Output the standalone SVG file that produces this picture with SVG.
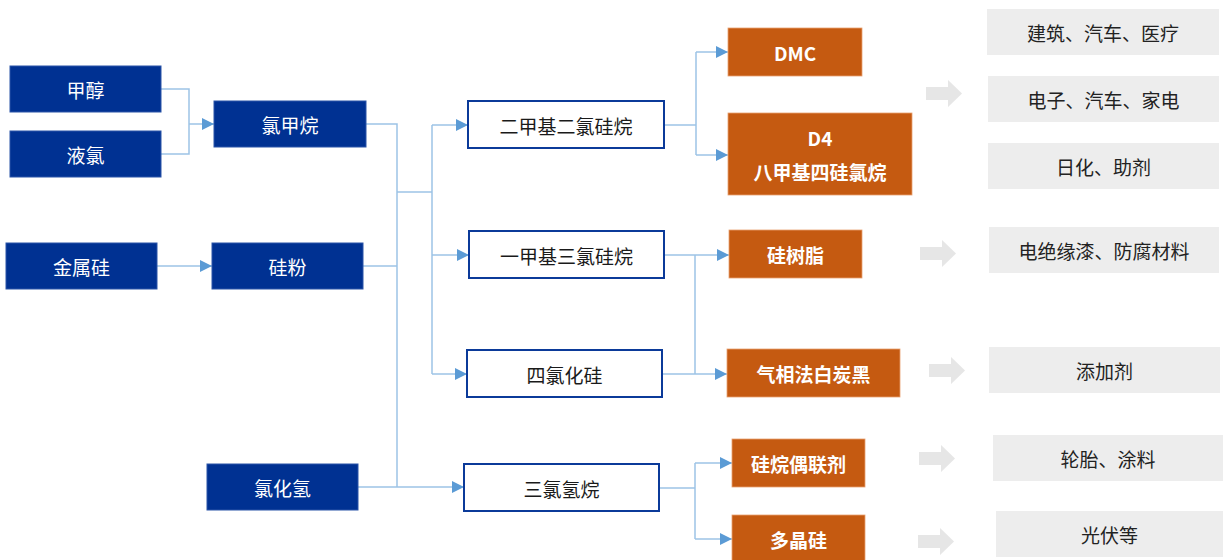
<svg xmlns="http://www.w3.org/2000/svg" width="1223" height="560" viewBox="0 0 1223 560">
<style>
.blue{fill:#003192;stroke:#2a55a8;stroke-width:1}
.white{fill:#ffffff;stroke:#0b3a99;stroke-width:2}
.orange{fill:#c55a11;stroke:#e8a070;stroke-width:0.8}
.grey{fill:#ededed}
.garrow{fill:#e6e6e6}
text{font-family:"Microsoft YaHei","Noto Sans CJK SC","Noto Sans",sans-serif;font-size:19px;text-anchor:middle;dominant-baseline:central}
.tw{fill:#ffffff}
.tb{fill:#1a1a1a}
.to{fill:#ffffff;font-weight:bold}
.tg{fill:#222222}
.conn path{fill:none;stroke:#9dc3e6;stroke-width:1.5}
</style>
<defs>
<marker id="arr" viewBox="0 0 10 10" refX="10" refY="5" markerWidth="12" markerHeight="12" markerUnits="userSpaceOnUse" orient="auto">
<path d="M0,0 L10,5 L0,10 z" fill="#5b9bd5"/>
</marker>
</defs>
<g class="conn" id="connectors">
<path d="M161,89 H189 V154 H161"/>
<path d="M189,124 H214" marker-end="url(#arr)"/>
<path d="M157,266 H212" marker-end="url(#arr)"/>
<path d="M366,124 H397 V487"/>
<path d="M363,266 H397"/>
<path d="M358,487 H464" marker-end="url(#arr)"/>
<path d="M397,192 H432"/>
<path d="M432,125 V374"/>
<path d="M432,125 H468" marker-end="url(#arr)"/>
<path d="M432,255 H469" marker-end="url(#arr)"/>
<path d="M432,374 H467" marker-end="url(#arr)"/>
<path d="M664,125 H696"/>
<path d="M696,52 V155"/>
<path d="M696,52 H728" marker-end="url(#arr)"/>
<path d="M696,155 H728" marker-end="url(#arr)"/>
<path d="M664,255 H729" marker-end="url(#arr)"/>
<path d="M662,374 H727" marker-end="url(#arr)"/>
<path d="M695,255 V374"/>
<path d="M659,488 H695"/>
<path d="M695,463 V539"/>
<path d="M695,463 H732" marker-end="url(#arr)"/>
<path d="M695,539 H732" marker-end="url(#arr)"/>
</g>
<g id="n-jiachun"><rect class="blue" x="10" y="66" width="151" height="46"/><text class="tw" x="85.5" y="89">甲醇</text></g>
<g id="n-yelv"><rect class="blue" x="10" y="131" width="151" height="46"/><text class="tw" x="85.5" y="154">液氯</text></g>
<g id="n-lvjiawan"><rect class="blue" x="214" y="101" width="152" height="46"/><text class="tw" x="290" y="124">氯甲烷</text></g>
<g id="n-jinshugui"><rect class="blue" x="6" y="243" width="151" height="46"/><text class="tw" x="81.5" y="266">金属硅</text></g>
<g id="n-guifen"><rect class="blue" x="212" y="243" width="151" height="46"/><text class="tw" x="287.5" y="266">硅粉</text></g>
<g id="n-lvhuaqing"><rect class="blue" x="207" y="464" width="151" height="46"/><text class="tw" x="282.5" y="487">氯化氢</text></g>
<g id="n-erjiaji"><rect class="white" x="468" y="101" width="196" height="47"/><text class="tb" x="566" y="125">二甲基二氯硅烷</text></g>
<g id="n-yijiaji"><rect class="white" x="469" y="231" width="195" height="47"/><text class="tb" x="566.5" y="255">一甲基三氯硅烷</text></g>
<g id="n-silvhuagui"><rect class="white" x="467" y="350" width="195" height="47"/><text class="tb" x="564.5" y="374">四氯化硅</text></g>
<g id="n-sanlvqingwan"><rect class="white" x="464" y="464" width="195" height="47"/><text class="tb" x="561.5" y="488">三氯氢烷</text></g>
<g id="n-dmc"><rect class="orange" x="728" y="28" width="134" height="48"/><text class="to" x="795" y="52">DMC</text></g>
<g id="n-d4"><rect class="orange" x="728" y="113" width="184" height="82"/><text class="to" x="820" y="137">D4</text><text class="to" x="820" y="171">八甲基四硅氯烷</text></g>
<g id="n-shuzhi"><rect class="orange" x="729" y="230" width="133" height="48"/><text class="to" x="795.5" y="254">硅树脂</text></g>
<g id="n-baitanhei"><rect class="orange" x="727" y="349" width="173" height="48"/><text class="to" x="813.5" y="373">气相法白炭黑</text></g>
<g id="n-ouLianji"><rect class="orange" x="732" y="439" width="133" height="48"/><text class="to" x="798.5" y="463">硅烷偶联剂</text></g>
<g id="n-duojinggui"><rect class="orange" x="732" y="515" width="133" height="48"/><text class="to" x="798.5" y="539">多晶硅</text></g>
<g id="n-app1"><rect class="grey" x="987" y="9" width="232" height="46"/><text class="tg" x="1103" y="32">建筑、汽车、医疗</text></g>
<g id="n-app2"><rect class="grey" x="988" y="76" width="231" height="46"/><text class="tg" x="1103.5" y="99">电子、汽车、家电</text></g>
<g id="n-app3"><rect class="grey" x="988" y="143" width="231" height="46"/><text class="tg" x="1103.5" y="166">日化、助剂</text></g>
<g id="n-app4"><rect class="grey" x="989" y="227" width="230" height="46"/><text class="tg" x="1104" y="250">电绝缘漆、防腐材料</text></g>
<g id="n-app5"><rect class="grey" x="989" y="347" width="231" height="46"/><text class="tg" x="1104.5" y="370">添加剂</text></g>
<g id="n-app6"><rect class="grey" x="993" y="435" width="230" height="46"/><text class="tg" x="1108" y="458">轮胎、涂料</text></g>
<g id="n-app7"><rect class="grey" x="996" y="511" width="227" height="46"/><text class="tg" x="1109.5" y="534">光伏等</text></g>
<g id="garrows">
<path class="garrow" d="M926,87 H948 V80 L962,93.5 L948,107 V100 H926 z"/>
<path class="garrow" d="M920,247 H942 V240 L956,253.5 L942,267 V260 H920 z"/>
<path class="garrow" d="M929,364 H951 V357 L965,370.5 L951,384 V377 H929 z"/>
<path class="garrow" d="M919,452 H941 V445 L955,458.5 L941,472 V465 H919 z"/>
<path class="garrow" d="M918,535 H940 V528 L954,541.5 L940,555 V548 H918 z"/>
</g>
</svg>
